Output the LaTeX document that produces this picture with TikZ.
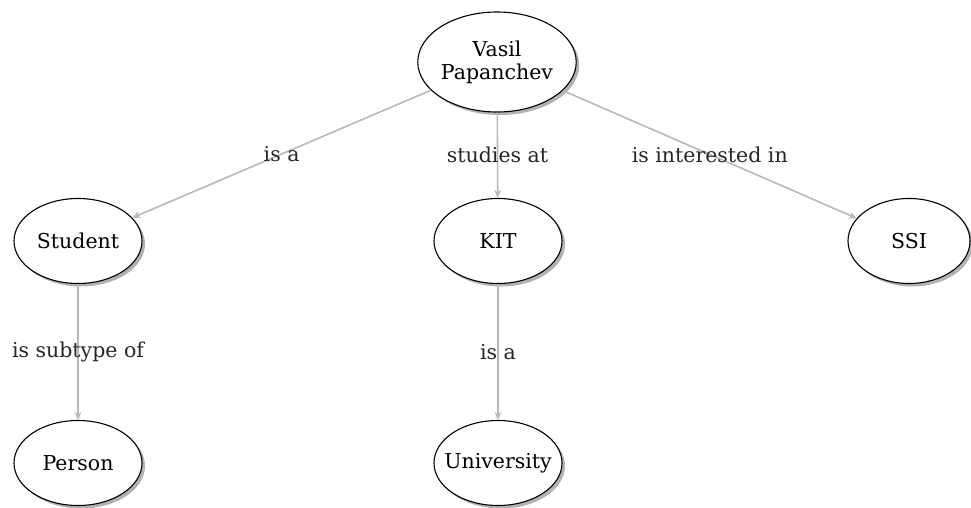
\documentclass[tikz,border=0pt]{standalone}
\usepackage{fontspec}
\setmainfont{DejaVu Serif}
\usetikzlibrary{shapes.geometric,shadows,arrows.meta}
\begin{document}
\begin{tikzpicture}[x=1pt,y=-1pt,
  ent/.style={ellipse,draw=black,line width=1.1pt,fill=white,inner sep=0pt,
    minimum width=128pt,minimum height=85pt,font=\fontsize{20.5}{24}\selectfont,align=center,
    drop shadow={shadow xshift=3pt,shadow yshift=-3pt,fill=black,opacity=0.3}},
  rel/.style={draw=black!28,line width=1.6pt,-{Stealth[length=8pt,width=7pt]}},
  lab/.style={font=\fontsize{20.5}{24}\selectfont,text=black!85}]
\useasboundingbox (0,0) rectangle (971,508);
\node[ent,minimum width=154pt,minimum height=100pt] (vasil) at (497,62) {Vasil\\[-1pt]Papanchev};
\node[ent] (student) at (78,241) {Student};
\node[ent] (kit) at (498,241) {KIT};
\node[ent,minimum width=122pt] (ssi) at (909,241) {SSI};
\node[ent] (person) at (78,463) {Person};
\node[ent] (univ) at (498,463) {\makebox[0pt]{University}};
\draw[rel] (vasil) -- node[lab] {is a} (student);
\draw[rel] (vasil) -- node[lab] {studies at} (kit);
\draw[rel] (vasil) -- node[lab] {is interested in} (ssi);
\draw[rel] (student) -- node[lab] {is subtype of} (person);
\draw[rel] (kit) -- node[lab] {is a} (univ);
\end{tikzpicture}
\end{document}
